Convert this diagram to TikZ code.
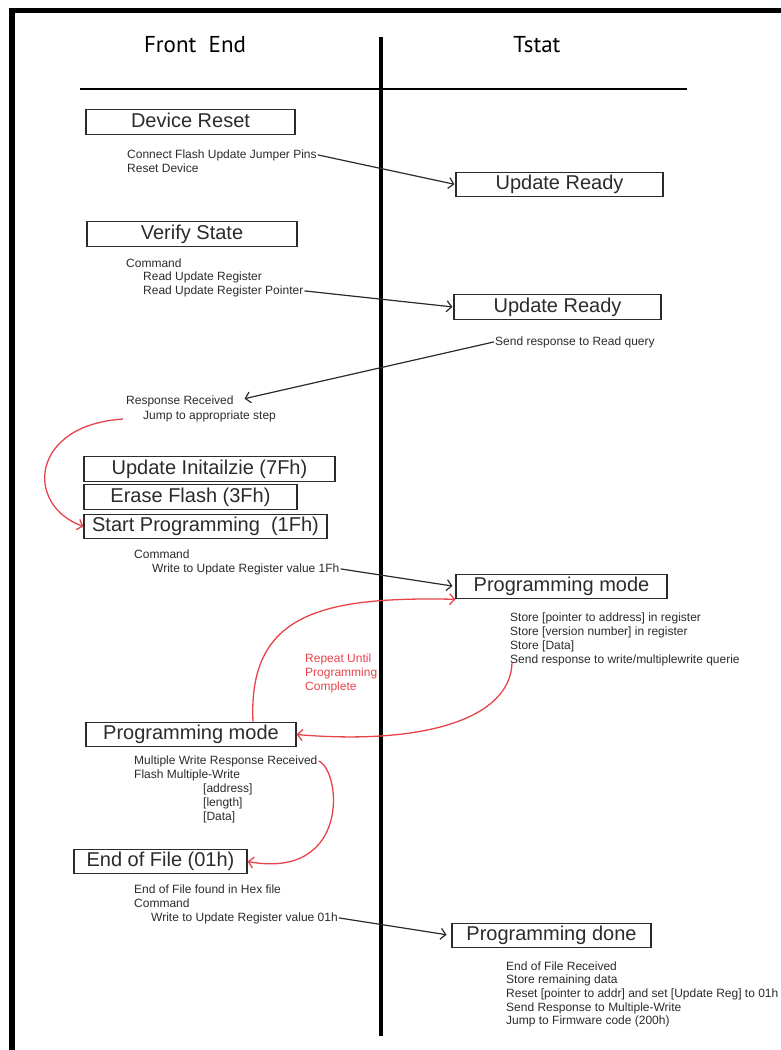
\documentclass[tikz,border=0pt]{standalone}
\usepackage{fontspec}
\setmainfont{Liberation Sans}
\newfontfamily\headfont{PT Sans}
\usetikzlibrary{arrows.meta,positioning}
\definecolor{InkGray}{HTML}{2B2B2B}
\definecolor{LoopRed}{HTML}{E8434B}

\begin{document}
\begin{tikzpicture}[x=1pt,y=-1pt,
  every node/.style={text=InkGray},
  stepbox/.style={draw=InkGray,line width=1.1pt,minimum height=24.5pt,inner sep=2pt,text height=15pt,text depth=4.5pt,font=\fontsize{20}{22}\selectfont},
  note/.style={anchor=base west,inner sep=1pt,font=\fontsize{12}{14}\selectfont},
  colhead/.style={anchor=base,text=black,font=\headfont\fontsize{23}{26}\selectfont},
  msg/.style={draw=InkGray,line width=1.2pt,-{Straight Barb[length=5pt,width=11pt]}},
  loopback/.style={draw=LoopRed,line width=1.3pt,-{Straight Barb[length=5pt,width=11pt]}}]
\useasboundingbox (0,0) rectangle (781,1050);
\draw[line width=5.5pt] (12,1050) -- (12,10.5) -- (781,10.5);
\node[colhead] (fe) at (195,52) {Front\ \ End};
\node[colhead] (ts) at (537,52) {Tstat};
\draw[line width=2.2pt] (80,89) -- (687,89);
\draw[line width=4.5pt] (381,37) -- (381,1036);

\node[stepbox,minimum width=209pt] (reset) at (190.5,122) {Device Reset};
\node[stepbox,minimum width=207pt] (ready1) at (559.5,184.5) {Update Ready};
\node[stepbox,minimum width=210pt] (verify) at (192,234) {Verify State};
\node[stepbox,minimum width=207pt] (ready2) at (557.5,307) {Update Ready};
\node[stepbox,minimum width=251pt] (init) at (209.5,469) {Update Initailzie (7Fh)};
\node[stepbox,minimum width=213pt] (erase) at (190.5,497) {Erase Flash (3Fh)};
\node[stepbox,minimum width=243pt] (start) at (205.5,526.5) {Start Programming~~(1Fh)};
\node[stepbox,minimum width=211pt] (progR) at (561.5,586.5) {Programming mode};
\node[stepbox,minimum width=210pt] (progL) at (191,734.5) {Programming mode};
\node[stepbox,minimum width=173pt] (eof) at (160.5,861.5) {End of File (01h)};
\node[stepbox,minimum width=199pt] (done) at (551.5,935.5) {Programming done};

\node[note] (pins) at (126,158) {Connect Flash Update Jumper Pins};
\node[note] (rstdev) at (126,172) {Reset Device};
\draw[msg,shorten >=1pt] (pins.east) -- (ready1.west);

\node[note] (cmdA) at (125,267) {Command};
\node[note] (rdreg) at (142,280) {Read Update Register};
\node[note] (rdptr) at (142,294) {Read Update Register Pointer};
\draw[msg,shorten >=1pt] (rdptr.east) -- (ready2.west);

\node[note] (sendq) at (494,345) {Send response to Read query};
\node[note] (rcvd) at (125,404) {Response Received};
\node[note] (jump) at (142,419) {Jump to appropriate step};
\draw[msg,shorten >=10pt] (sendq.west) -- (rcvd.east);
\draw[loopback] ([xshift=-19pt]jump.base west) .. controls +(-93,6) and +(-59,-21.5) .. (start.west);

\node[note] (cmdB) at (133,558) {Command};
\node[note] (wr1f) at (151,572) {Write to Update Register value 1Fh};
\draw[msg,shorten >=3pt] (wr1f.east) -- (progR.west);

\foreach \txt [count=\i] in {{Store [pointer to address] in register},{Store [version number] in register},{Store [Data]}}
  \node[note] (store\i) at (509,607+14*\i) {\txt};
\node[note] (sendw) at (509,663) {Send response to write/multiplewrite querie};
\foreach \txt [count=\i] in {Repeat Until,Programming,Complete}
  \node[note,text=LoopRed] (rpt\i) at (304,648+14*\i) {\txt};
\draw[loopback] ([xshift=3pt]sendw.base west) .. controls +(-2,57) and +(124,10.5) .. (progL.east);
\draw[loopback] ([xshift=62pt]progL.north) .. controls +(-5,-107) and +(-136,-3) .. (progR.south west);

\node[note] (mwr) at (133,764) {Multiple Write Response Received};
\node[note] (fmw) at (133,778) {Flash Multiple-Write};
\foreach \txt [count=\i] in {{[address]},{[length]},{[Data]}}
  \node[note] (fld\i) at (202,778+14*\i) {\txt};
\draw[loopback] (mwr.east) .. controls +(23,10) and +(103,18.5) .. (eof.east);

\node[note] (eofhex) at (133,893) {End of File found in Hex file};
\node[note] (cmdC) at (133,907) {Command};
\node[note] (wr01) at (150,921) {Write to Update Register value 01h};
\draw[msg,shorten >=5pt] (wr01.east) -- (done.west);

\foreach \txt [count=\i] in {{End of File Received},{Store remaining data},{Reset [pointer to addr] and set [Update Reg] to 01h},{Send Response to Multiple-Write},{Jump to Firmware code (200h)}}
  \node[note] (fin\i) at (505,956.3+13.7*\i) {\txt};
\end{tikzpicture}
\end{document}
